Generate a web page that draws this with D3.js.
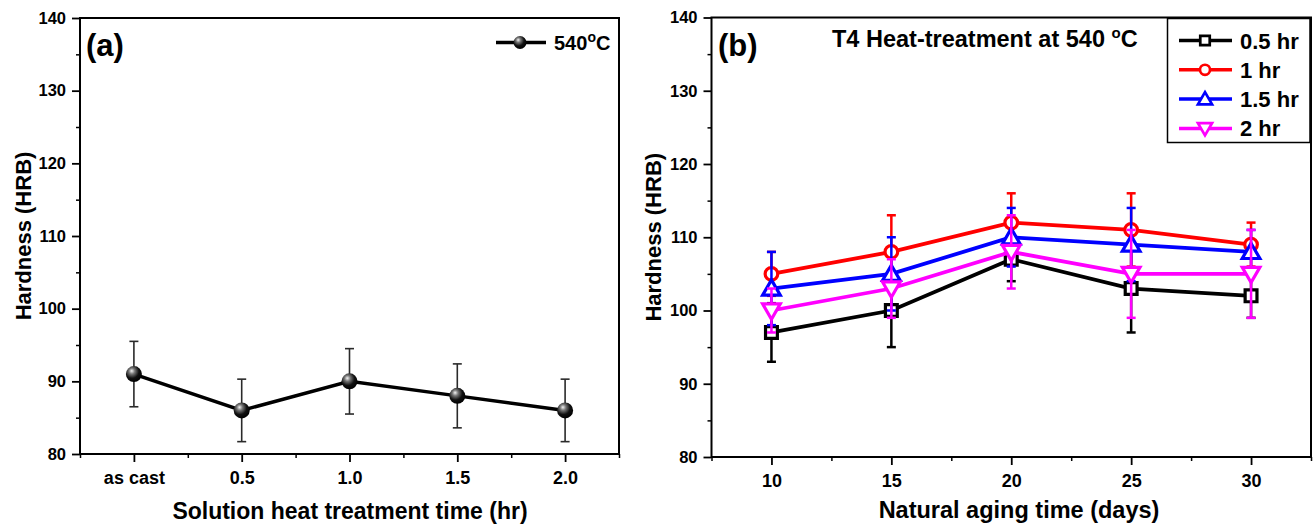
<!DOCTYPE html>
<html>
<head>
<meta charset="utf-8">
<script src="https://cdn.jsdelivr.net/npm/d3@7"></script>
<style>
  body { margin: 0; background: #fff; }
  svg text { font-family: "Liberation Sans", Arial, sans-serif; font-weight: bold; fill: #000; }
</style>
</head>
<body>
<svg id="mainsvg" width="1314" height="525"></svg>
<script>
// panel (a) data
const catsA = ['as cast', '0.5', '1.0', '1.5', '2.0'];
const hardA = [91, 86, 90, 88, 86];
const errA = [4.5, 4.3, 4.5, 4.4, 4.3];

// panel (b) data
const days = [10, 15, 20, 25, 30];
const seriesNames = ['0.5 hr', '1 hr', '1.5 hr', '2 hr'];
const hard05 = [97, 100, 107, 103, 102];
const err05 = [4, 5, 3, 6, 3];
const hard1 = [105, 108, 112, 111, 109];
const err1 = [3, 5, 4, 5, 3];
const hard15 = [103, 105, 110, 109, 108];
const err15 = [5, 5, 4, 5, 3];
const hard2 = [100, 103, 108, 105, 105];
const err2 = [3, 4, 5, 6, 6];

const yTicks = [80, 90, 100, 110, 120, 130, 140];

const svg = d3.select('#mainsvg');

// sphere gradient for panel (a)
const defs = svg.append('defs');
const grad = defs.append('radialGradient').attr('id', 'ball')
  .attr('cx', '40%').attr('cy', '35%').attr('r', '65%').attr('fx', '36%').attr('fy', '30%');
grad.append('stop').attr('offset', '0%').attr('stop-color', '#f4f4f4');
grad.append('stop').attr('offset', '28%').attr('stop-color', '#777');
grad.append('stop').attr('offset', '65%').attr('stop-color', '#111');
grad.append('stop').attr('offset', '100%').attr('stop-color', '#000');

function frame(x0, x1, y0, y1, xScale, yScale, opts) {
  const g = svg.append('g');
  // minor y ticks
  g.append('g').attr('transform', `translate(${x0},0)`)
    .call(d3.axisLeft(yScale).tickValues(d3.range(85, 140, 10)).tickSize(4).tickFormat(''))
    .call(a => a.select('.domain').remove())
    .selectAll('line').attr('stroke-width', 1.5);
  const ya = g.append('g').attr('transform', `translate(${x0},0)`)
    .call(d3.axisLeft(yScale).tickValues(yTicks).tickSize(8).tickPadding(6));
  ya.select('.domain').remove();
  ya.selectAll('line').attr('stroke-width', 1.8);
  ya.selectAll('text').attr('font-size', '16.5px').style('font-family', '"Liberation Sans", Arial').style('font-weight', 'bold');

  g.append('g').attr('transform', `translate(0,${y1})`)
    .call(d3.axisBottom(xScale).tickValues(opts.minor).tickSize(4).tickFormat(''))
    .call(a => a.select('.domain').remove())
    .selectAll('line').attr('stroke-width', 1.5);
  const xa = g.append('g').attr('transform', `translate(0,${y1})`)
    .call(d3.axisBottom(xScale).tickValues(opts.major).tickSize(8).tickPadding(9).tickFormat(opts.fmt));
  xa.select('.domain').remove();
  xa.selectAll('line').attr('stroke-width', 1.8);
  xa.selectAll('text').attr('font-size', '18px').style('font-family', '"Liberation Sans", Arial').style('font-weight', 'bold');

  g.append('rect').attr('x', x0).attr('y', y0).attr('width', x1 - x0).attr('height', y1 - y0)
    .attr('fill', 'none').attr('stroke', '#000').attr('stroke-width', 2);
  return g;
}

// ---------- panel (a) ----------
const ax0 = 80, ax1 = 619, ay0 = 18, ay1 = 454;
const xA = d3.scaleLinear().domain([-0.5, 4.5]).range([ax0, ax1]);
const yA = d3.scaleLinear().domain([80, 140]).range([ay1, ay0]);
frame(ax0, ax1, ay0, ay1, xA, yA, {
  major: d3.range(catsA.length),
  minor: d3.range(-0.5, 4.6, 1),
  fmt: i => catsA[i]
});

const gA = svg.append('g');
catsA.forEach((c, i) => {
  const x = xA(i);
  gA.append('line').attr('x1', x).attr('x2', x).attr('y1', yA(hardA[i] + errA[i])).attr('y2', yA(hardA[i] - errA[i]))
    .attr('stroke', '#2a2a2a').attr('stroke-width', 1.6);
  [hardA[i] + errA[i], hardA[i] - errA[i]].forEach(v => {
    gA.append('line').attr('x1', x - 4.5).attr('x2', x + 4.5).attr('y1', yA(v)).attr('y2', yA(v))
      .attr('stroke', '#2a2a2a').attr('stroke-width', 1.6);
  });
});
gA.append('path').datum(hardA)
  .attr('d', d3.line().x((d, i) => xA(i)).y(d => yA(d)))
  .attr('fill', 'none').attr('stroke', '#000').attr('stroke-width', 3.5);
hardA.forEach((d, i) => {
  gA.append('circle').attr('cx', xA(i)).attr('cy', yA(d)).attr('r', 8).attr('fill', 'url(#ball)');
});

// legend (a)
gA.append('line').attr('x1', 496).attr('x2', 546).attr('y1', 42.5).attr('y2', 42.5).attr('stroke', '#000').attr('stroke-width', 3.5);
gA.append('circle').attr('cx', 520).attr('cy', 42.5).attr('r', 6.5).attr('fill', 'url(#ball)');
const legA = gA.append('text').attr('x', 554).attr('y', 50).attr('font-size', '20px');
legA.append('tspan').text('540');
legA.append('tspan').text('o').attr('font-size', '14px').attr('dy', -8);
legA.append('tspan').text('C').attr('dy', 8);

svg.append('text').attr('x', 86).attr('y', 56).attr('font-size', '31px').text('(a)');
svg.append('text').attr('transform', `translate(31,${(ay0 + ay1) / 2}) rotate(-90)`)
  .attr('text-anchor', 'middle').attr('font-size', '22px').text('Hardness (HRB)');
svg.append('text').attr('x', 350).attr('y', 519)
  .attr('text-anchor', 'middle').attr('font-size', '23px').text('Solution heat treatment time (hr)');

// ---------- panel (b) ----------
const bx0 = 711.5, bx1 = 1311, by0 = 17.5, by1 = 457;
const xB = d3.scaleLinear().domain([7.5, 32.5]).range([bx0, bx1]);
const yB = d3.scaleLinear().domain([80, 140]).range([by1, by0]);
frame(bx0, bx1, by0, by1, xB, yB, {
  major: days,
  minor: d3.range(7.5, 33, 5),
  fmt: d3.format('d')
});

const symSquare = d3.symbol().type(d3.symbolSquare);
const symCircle = d3.symbol().type(d3.symbolCircle);
const symTri = d3.symbol().type(d3.symbolTriangle);

const series = [
  { name: seriesNames[0], vals: hard05, errs: err05, color: '#000000', shape: 'square' },
  { name: seriesNames[1], vals: hard1, errs: err1, color: '#ff0000', shape: 'circle' },
  { name: seriesNames[2], vals: hard15, errs: err15, color: '#0000ff', shape: 'up' },
  { name: seriesNames[3], vals: hard2, errs: err2, color: '#ff00ff', shape: 'down' }
];

function marker(g, shape, x, y, color, k) {
  let p;
  if (shape === 'square') p = g.append('path').attr('d', symSquare.size(140 * k * k)());
  else if (shape === 'circle') p = g.append('path').attr('d', symCircle.size(125 * k * k)());
  else p = g.append('path').attr('d', symTri.size(135 * k * k)());
  const rot = shape === 'down' ? ' rotate(180)' : '';
  const dy = shape === 'up' ? 1.5 * k : (shape === 'down' ? -1.5 * k : 0);
  p.attr('transform', `translate(${x},${y + dy})${rot}`)
    .attr('fill', '#fff').attr('stroke', color).attr('stroke-width', 3.2 * Math.max(k, 0.85));
}

const gB = svg.append('g');
series.forEach(s => {
  const sg = gB.append('g');
  s.vals.forEach((v, i) => {
    const x = xB(days[i]);
    sg.append('line').attr('x1', x).attr('x2', x).attr('y1', yB(v + s.errs[i])).attr('y2', yB(v - s.errs[i]))
      .attr('stroke', s.color).attr('stroke-width', 2.5);
    [v + s.errs[i], v - s.errs[i]].forEach(e => {
      sg.append('line').attr('x1', x - 4.5).attr('x2', x + 4.5).attr('y1', yB(e)).attr('y2', yB(e))
        .attr('stroke', s.color).attr('stroke-width', 2.5);
    });
  });
  sg.append('path').datum(s.vals)
    .attr('d', d3.line().x((d, i) => xB(days[i])).y(d => yB(d)))
    .attr('fill', 'none').attr('stroke', s.color).attr('stroke-width', 3.8);
  s.vals.forEach((v, i) => marker(sg, s.shape, xB(days[i]), yB(v), s.color, 1));
});

// legend (b)
const lg = svg.append('g');
lg.append('rect').attr('x', 1167.5).attr('y', 18.5).attr('width', 1310 - 1167.5).attr('height', 124)
  .attr('fill', '#fff').attr('stroke', '#000').attr('stroke-width', 1.5);
series.forEach((s, i) => {
  const y = 40.5 + i * 29.3;
  lg.append('line').attr('x1', 1179).attr('x2', 1232).attr('y1', y).attr('y2', y).attr('stroke', s.color).attr('stroke-width', 3.5);
  marker(lg, s.shape, 1205, y, s.color, 0.8);
  lg.append('text').attr('x', 1240).attr('y', y + 8).attr('font-size', '22px').text(s.name);
});

svg.append('text').attr('x', 718).attr('y', 56).attr('font-size', '31px').text('(b)');
const title = svg.append('text').attr('x', 832).attr('y', 47).attr('font-size', '23.5px');
title.append('tspan').text('T4 Heat-treatment at 540 ');
title.append('tspan').text('o').attr('font-size', '15px').attr('dy', -9);
title.append('tspan').text('C').attr('dy', 9);
svg.append('text').attr('transform', `translate(661,${(by0 + by1) / 2}) rotate(-90)`)
  .attr('text-anchor', 'middle').attr('font-size', '22px').text('Hardness (HRB)');
svg.append('text').attr('x', 1019).attr('y', 518)
  .attr('text-anchor', 'middle').attr('font-size', '23.5px').text('Natural aging time (days)');
</script>
</body>
</html>
